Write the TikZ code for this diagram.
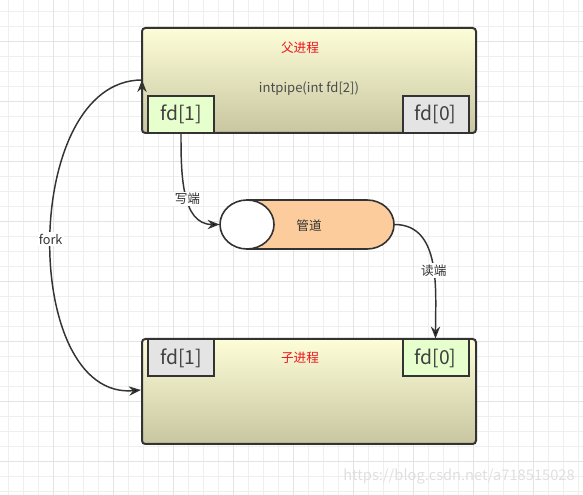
\documentclass[tikz,border=0pt]{standalone}
\usepackage{fontspec}
\setmainfont{Noto Sans CJK SC}
\usetikzlibrary{arrows.meta,positioning}

\definecolor{gridminor}{HTML}{EFEFEF}
\definecolor{gridmajor}{HTML}{E3E3E3}
\definecolor{boxtop}{HTML}{FDFDD7}
\definecolor{boxbottom}{HTML}{C7C6A0}
\definecolor{fdgreen}{HTML}{E6FFCC}
\definecolor{fdgray}{HTML}{E4E4E4}
\definecolor{pipeorange}{HTML}{FCCC9C}
\definecolor{inkgray}{HTML}{333333}
\definecolor{titlered}{HTML}{F0141E}

\begin{document}
\begin{tikzpicture}[
    x=0.75pt,
    y=-0.75pt,
    >={Stealth[length=9pt,width=7pt]},
    semithick,
    process/.style={draw=inkgray, line width=1.5pt, rounded corners=2.5pt,
        top color=boxtop, bottom color=boxbottom,
        minimum width=334*0.75pt, minimum height=105*0.75pt, inner sep=0pt},
    fdbox/.style={draw=inkgray, line width=1.5pt, text=black!75,
        minimum width=66*0.75pt, minimum height=37*0.75pt, inner sep=0pt,
        font=\fontsize{14.5}{17}\selectfont},
    title/.style={text=titlered, font=\fontsize{9.5}{11}\selectfont},
    flow/.style={->, draw=inkgray, line width=1.1pt},
    lbl/.style={fill=white, inner sep=1pt, text=black!80,
        font=\fontsize{9.5}{11}\selectfont}
]
    \useasboundingbox (0,0) rectangle (583,495);

    % background grid
    \foreach \gx in {8,23,...,578}
        \draw[gridminor, line width=0.75pt] (\gx,0) -- (\gx,495);
    \foreach \gy in {12,27,...,492}
        \draw[gridminor, line width=0.75pt] (0,\gy) -- (583,\gy);
    \foreach \gx in {53,113,...,533}
        \draw[gridmajor, line width=0.75pt] (\gx,0) -- (\gx,495);
    \foreach \gy in {42,102,...,462}
        \draw[gridmajor, line width=0.75pt] (0,\gy) -- (583,\gy);

    % parent and child
    \node[process] (Parent) at (309,80.5) {};
    \node[process] (Child) at (309,391.5) {};

    \node[fdbox, fill=fdgreen] (ParentWrite) at (181,114.5) {fd[1]};
    \node[fdbox, fill=fdgray] (ParentRead) at (435.5,114.5) {fd[0]};
    \node[fdbox, fill=fdgray] (ChildWrite) at (181,358) {fd[1]};
    \node[fdbox, fill=fdgreen] (ChildRead) at (435.5,358) {fd[0]};

    \node[title] (ParentName) at (300,48) {父进程};
    \node[title] (ChildName) at (300,358) {子进程};
    \node[text=black!70, font=\fontsize{9.8}{11}\selectfont] (Call) at (309,89) {intpipe(int fd[2])};

    % the pipe
    \node[minimum width=174*0.75pt, minimum height=49*0.75pt, inner sep=0pt] (Pipe) at (307,224.5) {};
    \filldraw[draw=inkgray, fill=pipeorange, line width=1.2pt]
        (247,200) -- (367,200) arc[start angle=-90, end angle=90, x radius=27, y radius=24.5]
        -- (247,249) -- cycle;
    \filldraw[draw=inkgray, fill=white, line width=1.2pt]
        (247,224.5) ellipse [x radius=27, y radius=24.5];
    \node[text=black!80, font=\fontsize{9.5}{11}\selectfont] (PipeName) at (309,226) {管道};

    \coordinate (ForkOut) at (142,80);
    \coordinate (ForkIn) at (141,390);

    \path[flow]
        (ParentWrite.south) edge[out=-90, in=180] node[lbl, pos=0.55] {写端} (Pipe.west)
        (Pipe.east) edge[out=0, in=90] node[lbl, pos=0.55] {读端} (ChildRead.north)
        (ForkOut) edge[out=180, in=185] node[lbl] {fork} (ForkIn);

    \node[text=gray!25, font=\fontsize{11}{13}\selectfont] (Mark) at (459,476) {https://blog.csdn.net/a718515028};
\end{tikzpicture}
\end{document}
